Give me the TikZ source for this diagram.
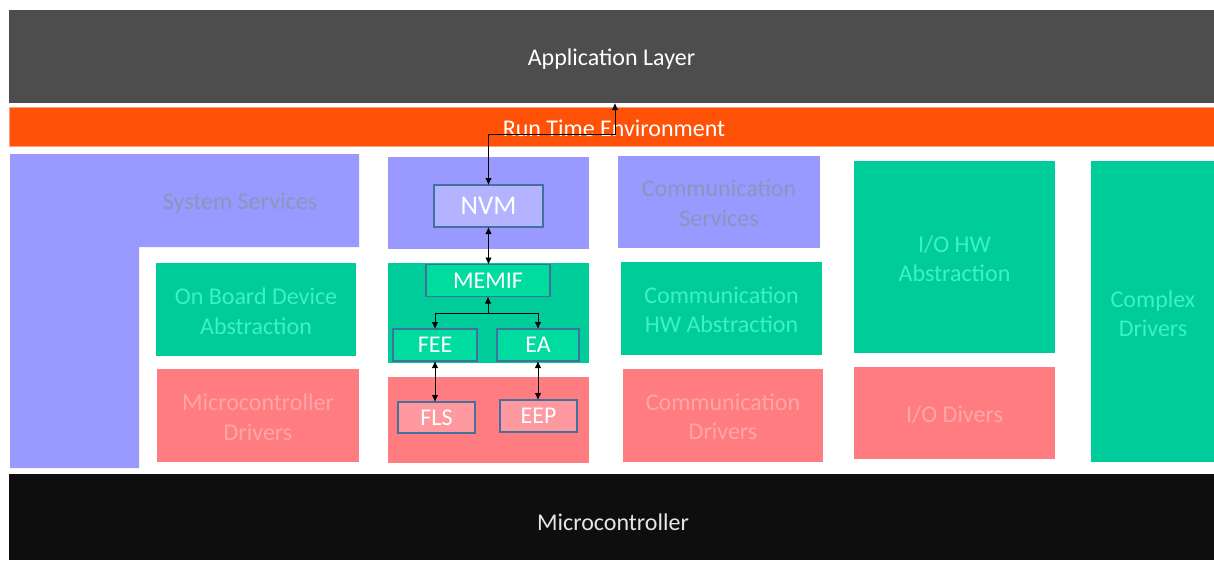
\documentclass[tikz,border=0pt]{standalone}
\usepackage{fontspec}
\setmainfont{Carlito}
\usetikzlibrary{arrows.meta,shadows}
\definecolor{appc}{HTML}{4D4D4D}
\definecolor{rtec}{HTML}{FF5208}
\definecolor{rteedge}{HTML}{F7A27E}
\definecolor{mcuc}{HTML}{0E0E0E}
\definecolor{purp}{HTML}{9999FF}
\definecolor{grn}{HTML}{00CC99}
\definecolor{redc}{HTML}{FF7C80}
\definecolor{purptxt}{HTML}{8A96BA}
\definecolor{grntxt}{HTML}{3CF2C4}
\definecolor{redtxt}{HTML}{FFA6A8}
\definecolor{purpbox}{HTML}{B3B3FF}
\definecolor{grnbox}{HTML}{00DCA0}
\definecolor{redbox}{HTML}{FF99A0}
\definecolor{boxedge}{HTML}{41719C}
\tikzset{
  x=1pt, y=-1pt,
  blk/.style={inner sep=0pt, outer sep=0pt, draw=none},
  txt/.style={inner sep=0pt, outer sep=0pt, align=center,
    font=\fontsize{24}{29.5}\selectfont},
  ptxt/.style={txt, text=purptxt},
  gtxt/.style={txt, text=grntxt},
  rtxt/.style={txt, text=redtxt},
  wtxt/.style={txt, text=white},
  sbox/.style={inner sep=0pt, outer sep=0pt, draw=boxedge, line width=1.2pt,
    text=white, font=\fontsize{24}{29}\selectfont,
    drop shadow={opacity=0.35, shadow xshift=-1.5pt, shadow yshift=1pt}},
  arr/.style={draw=black, line width=0.8pt, {Latex[length=7pt,width=6.5pt]}-{Latex[length=7pt,width=6.5pt]}},
  arrone/.style={draw=black, line width=0.8pt, -{Latex[length=7pt,width=6.5pt]}},
}
\begin{document}
\begin{tikzpicture}
\useasboundingbox[fill=white] (0,0) rectangle (1214,560);
% layers
\node[blk, fill=appc, minimum width=1205, minimum height=93] (app) at (611.5,56.5) {};
\node[wtxt] (apptxt) at ([yshift=-2.5pt]app.center) {Application Layer};
\node[blk, fill=rtec, draw=rteedge, line width=0.8pt, minimum width=1205, minimum height=39] (rte) at (611.5,126.5) {};
\node[wtxt] (rtetxt) at (614,128) {Run Time Environment};
\node[blk, fill=mcuc, minimum width=1205, minimum height=86] (mcu) at (611.5,517) {};
\node[txt, text=white!90!black] (mcutxt) at (613,522) {Microcontroller};
% system services L-shape
\fill[purp] (10,154) -- (359,154) -- (359,247) -- (139,247) -- (139,468) -- (10,468) -- cycle;
\node[ptxt] (sys) at (240,203.5) {System Services};
\node[blk, fill=grn, minimum width=200, minimum height=93] (obd) at (256,309.5) {};
\node[gtxt] (obdtxt) at ([yshift=-1.5pt]obd.center) {On Board Device\\Abstraction};
\node[blk, fill=redc, minimum width=202, minimum height=93] (mcd) at (258,415.5) {};
\node[rtxt] (mcdtxt) at ([yshift=-1.5pt]mcd.center) {Microcontroller\\Drivers};
% memory stack blocks
\node[blk, fill=purp, minimum width=201, minimum height=92] (nvmblk) at (488.5,203) {};
\node[blk, fill=grn, minimum width=201, minimum height=100] (memblk) at (488.5,313) {};
\node[blk, fill=redc, minimum width=201, minimum height=86] (drvblk) at (488.5,420) {};
% communication
\node[blk, fill=purp, minimum width=202, minimum height=92] (cs) at (719,202) {};
\node[ptxt] (cstxt) at ([yshift=-1.5pt]cs.center) {Communication\\Services};
\node[blk, fill=grn, minimum width=201, minimum height=93] (chw) at (721.5,308.5) {};
\node[gtxt] (chwtxt) at ([yshift=-1.5pt]chw.center) {Communication\\HW Abstraction};
\node[blk, fill=redc, minimum width=200, minimum height=93] (cdr) at (723,415.5) {};
\node[rtxt] (cdrtxt) at ([yshift=-1.5pt]cdr.center) {Communication\\Drivers};
% I/O
\node[blk, fill=grn, minimum width=201, minimum height=192] (iohw) at (954.5,257) {};
\node[gtxt] (iohwtxt) at ([yshift=-1.5pt]iohw.center) {I/O HW\\Abstraction};
\node[blk, fill=redc, minimum width=201, minimum height=92] (iodr) at (954.5,413) {};
\node[rtxt] (iodrtxt) at ([yshift=-1.5pt]iodr.center) {I/O Divers};
% complex
\node[blk, fill=grn, minimum width=124, minimum height=301] (cplx) at (1153,311.5) {};
\node[gtxt] (cplxtxt) at ([yshift=-2pt]cplx.center) {Complex\\Drivers};
% small boxes
\node[sbox, fill=purpbox, minimum width=109, minimum height=42, font=\fontsize{27}{30}\selectfont] (nvm) at (488.5,206) {NVM};
\node[sbox, fill=grnbox, minimum width=124, minimum height=32] (memif) at (488,280.5) {MEMIF};
\node[sbox, fill=grnbox, minimum width=84, minimum height=32] (fee) at (435,345) {FEE};
\node[sbox, fill=grnbox, minimum width=82, minimum height=32] (ea) at (538,345) {EA};
\node[sbox, fill=redbox, minimum width=77, minimum height=31] (fls) at (436.5,417.5) {FLS};
\node[sbox, fill=redbox, minimum width=77, minimum height=32] (eep) at (538.5,416) {EEP};
% connectors
\coordinate (rtecorner) at (615,134);
\coordinate (split) at (488,313);
\draw[arr] (nvm.north) |- (rtecorner) -- (app.south -| rtecorner);
\draw[arr] (nvm.south) -- (memif.north -| nvm.south);
\draw[arrone] (split) -- (memif.south);
\draw[arrone] (split) -| (fee.north);
\draw[arrone] (split) -| (ea.north);
\draw[arr] (fee.south) -- (fls.north -| fee.south);
\draw[arr] (ea.south) -- (eep.north -| ea.south);
\end{tikzpicture}
\end{document}
